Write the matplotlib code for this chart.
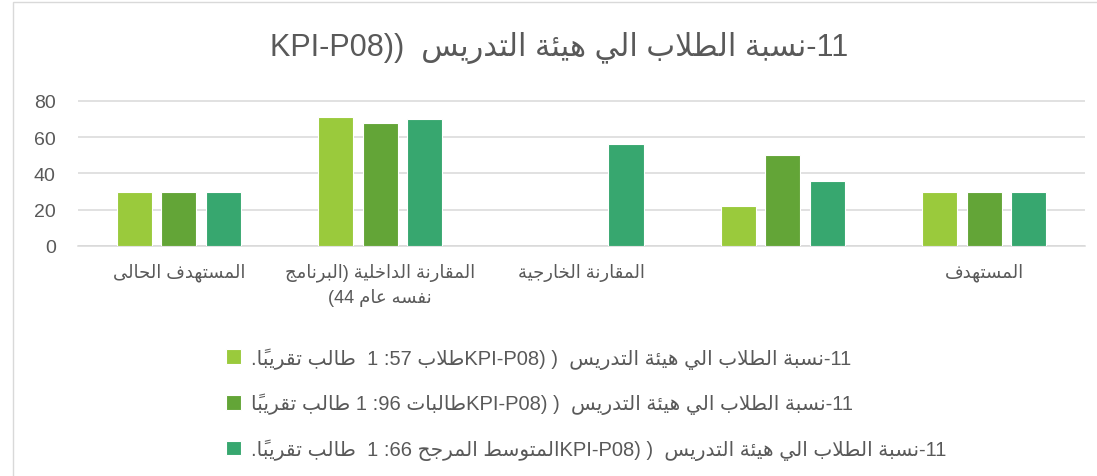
import numpy as np
import matplotlib
matplotlib.use('Agg')
import matplotlib.pyplot as plt
from matplotlib.patches import Rectangle

# ---------------- data ----------------
title = '11-نسبة الطلاب الي هيئة التدريس  ((KPI-P08'
categories = ['المستهدف الحالى',
              'المقارنة الداخلية (البرنامج\nنفسه عام 44)',
              'المقارنة الخارجية',
              '',
              'المستهدف']
series_names = ['11-نسبة الطلاب الي هيئة التدريس  ( (KPI-P08طلاب 57: 1  طالب تقريباً.',
                '11-نسبة الطلاب الي هيئة التدريس  ( (KPI-P08طالبات 96: 1 طالب تقريباً',
                '11-نسبة الطلاب الي هيئة التدريس  ( (KPI-P08المتوسط المرجح 66: 1  طالب تقريباً.']
s1 = [30, 71, np.nan, 22, 30]
s2 = [30, 68, np.nan, 50, 30]
s3 = [30, 70, 56, 36, 30]
colors = ['#9ACA3C', '#63A537', '#37A76F']
yticks = [0, 20, 40, 60, 80]

# ---------------- arabic shaping + simple rtl bidi ----------------
DUAL = {'ئ': 0xFE89, 'ب': 0xFE8F, 'ت': 0xFE95, 'ث': 0xFE99, 'ج': 0xFE9D, 'ح': 0xFEA1,
        'خ': 0xFEA5, 'س': 0xFEB1, 'ش': 0xFEB5, 'ص': 0xFEB9, 'ض': 0xFEBD, 'ط': 0xFEC1,
        'ظ': 0xFEC5, 'ع': 0xFEC9, 'غ': 0xFECD, 'ف': 0xFED1, 'ق': 0xFED5, 'ك': 0xFED9,
        'ل': 0xFEDD, 'م': 0xFEE1, 'ن': 0xFEE5, 'ه': 0xFEE9, 'ي': 0xFEF1}
RIGHT = {'آ': 0xFE81, 'أ': 0xFE83, 'ؤ': 0xFE85, 'إ': 0xFE87, 'ا': 0xFE8D, 'ة': 0xFE93,
         'د': 0xFEA9, 'ذ': 0xFEAB, 'ر': 0xFEAD, 'ز': 0xFEAF, 'و': 0xFEED, 'ى': 0xFEEF}
LAMALEF = {'آ': 0xFEF5, 'أ': 0xFEF7, 'إ': 0xFEF9, 'ا': 0xFEFB}


def is_mark(c):
    return 0x064B <= ord(c) <= 0x0652


def shape(s):
    ch = list(s)
    out = []

    def prev_joins(i):
        j = i - 1
        while j >= 0 and is_mark(ch[j]):
            j -= 1
        return j >= 0 and ch[j] in DUAL

    def next_idx(i):
        j = i + 1
        while j < len(ch) and is_mark(ch[j]):
            j += 1
        return j

    i = 0
    while i < len(ch):
        c = ch[i]
        j = next_idx(i)
        nxt = ch[j] if j < len(ch) else ''
        if c == 'ل' and nxt in LAMALEF:
            out.append(chr(LAMALEF[nxt] + (1 if prev_joins(i) else 0)))
            out.extend(ch[i + 1:j])
            i = j + 1
            continue
        if c in DUAL:
            p = prev_joins(i)
            n = nxt in DUAL or nxt in RIGHT
            form = 3 if (p and n) else 1 if p else 2 if n else 0
            out.append(chr(DUAL[c] + form))
        elif c in RIGHT:
            out.append(chr(RIGHT[c] + (1 if prev_joins(i) else 0)))
        else:
            out.append(c)
        i += 1
    return ''.join(out)


def is_ar(c):
    o = ord(c)
    return 0x0600 <= o <= 0x06FF or 0xFB50 <= o <= 0xFEFF


def rtl_line(s):
    s = shape(s)
    cl = []
    for c in s:
        if is_mark(c) and cl:
            cl[-1] += c
        else:
            cl.append(c)
    types = []
    for c in cl:
        b = c[0]
        if is_ar(b):
            types.append('R')
        elif b.isdigit():
            types.append('EN')
        elif b.isalpha():
            types.append('L')
        else:
            types.append('N')
    last = 'R'
    for i, t in enumerate(types):
        if t in ('L', 'R'):
            last = t
        elif t == 'EN' and last == 'L':
            types[i] = 'L'
    res = list(types)
    n = len(types)
    i = 0
    while i < n:
        if types[i] == 'N':
            j = i
            while j < n and types[j] == 'N':
                j += 1
            bef = 'R' if i == 0 or types[i - 1] in ('R', 'EN') else 'L'
            aft = 'R' if j == n or types[j] in ('R', 'EN') else 'L'
            d = bef if bef == aft else 'R'
            for k in range(i, j):
                res[k] = d
            i = j
        else:
            i += 1
    levels = [1 if t == 'R' else 2 for t in res]
    mirror = {'(': ')', ')': '('}
    cl = [mirror.get(c, c) if lv % 2 else c for c, lv in zip(cl, levels)]
    idx = list(range(n))
    for lv in (2, 1):
        i = 0
        while i < n:
            if levels[idx[i]] >= lv:
                j = i
                while j < n and levels[idx[j]] >= lv:
                    j += 1
                idx[i:j] = idx[i:j][::-1]
                i = j
            else:
                i += 1
    return ''.join(cl[k] for k in idx)


def ar(s):
    return '\n'.join(rtl_line(l) for l in s.split('\n'))


# ---------------- plot ----------------
plt.rcParams['font.family'] = ['Liberation Sans', 'DejaVu Sans']
grey = '#595959'

W, H = 1097, 477
fig = plt.figure(figsize=(W / 100, H / 100), dpi=100)
ax = fig.add_axes([78 / W, (H - 247) / H, (1085 - 78) / W, 146 / H])

x = np.arange(len(categories))
pitch, width = 0.221, 0.174
for k, (vals, col, name) in enumerate(zip([s1, s2, s3], colors, series_names)):
    ax.bar(x + (k - 1) * pitch, vals, width, color=col, edgecolor='white',
           linewidth=0.8, label=ar(name), zorder=3)

ax.set_xlim(-0.5, len(categories) - 0.5)
ax.set_ylim(0, 80.5)
ax.set_yticks(yticks)
ax.set_xticks(x, [ar(c) for c in categories])
for lab in ax.get_xticklabels():
    lab.set_linespacing(1.45)
ax.grid(axis='y', color='#D9D9D9', linewidth=1.1, zorder=0)
ax.set_axisbelow(True)
for sp in ['top', 'right', 'left']:
    ax.spines[sp].set_visible(False)
ax.spines['bottom'].set_color('#D9D9D9')
ax.spines['bottom'].set_linewidth(1.1)
ax.tick_params(axis='y', length=0, pad=16, labelsize=14, labelcolor=grey)
ax.tick_params(axis='x', length=0, pad=12, labelsize=13, labelcolor=grey)

fig.text(0.51, 0.90, ar(title), ha='center', va='center', fontsize=22, color=grey)

ax.legend(loc='upper left', bbox_to_anchor=(208 / W, 1 - 330 / H),
          bbox_transform=fig.transFigure, frameon=False, fontsize=14.5,
          handlelength=0.75, handleheight=0.75, handletextpad=0.5,
          labelspacing=1.2, labelcolor=grey)

fig.add_artist(Rectangle((13 / W, -0.1), 1.2, 1.1 - 3 / H, transform=fig.transFigure,
                         fill=False, ec='#D9D9D9', lw=1))

fig.savefig('out.png', dpi=100)
